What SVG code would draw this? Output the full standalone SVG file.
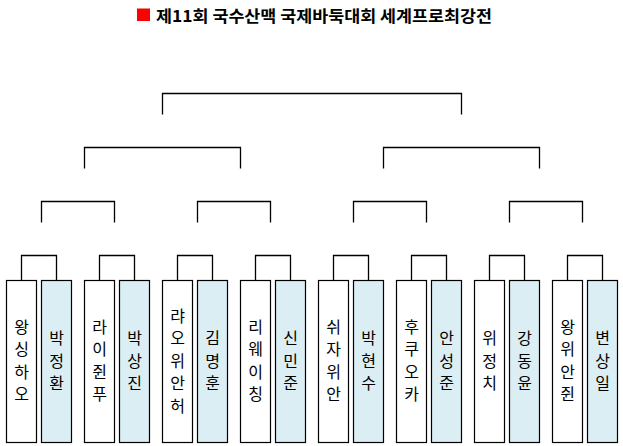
<svg xmlns="http://www.w3.org/2000/svg" width="623" height="446" viewBox="0 0 623 446">
<style>
.a{fill:#ffffff;stroke:#000;stroke-width:1.2}
.b{fill:#DAEEF3;stroke:#000;stroke-width:1.2}
.c{fill:none;stroke:#000;stroke-width:1.3}
.t{font-family:"Noto Sans CJK KR","Noto Sans",sans-serif;font-size:16px;fill:#000;text-anchor:middle;dominant-baseline:central}
.h{font-family:"Noto Sans CJK KR","Noto Sans",sans-serif;font-size:16px;font-weight:bold;fill:#000;dominant-baseline:central}
</style>
<rect width="623" height="446" fill="#ffffff"/>
<g id="title">
<rect x="137" y="8.5" width="13" height="12.5" fill="#ff0000"/>
<text class="h" x="156" y="14.5" textLength="336" lengthAdjust="spacingAndGlyphs">제11회 국수산맥 국제바둑대회 세계프로최강전</text>
</g>
<g id="connectors">
<path class="c" d="M21.5 280.5V255.5H56.5V280.5"/>
<path class="c" d="M99.5 280.5V255.5H134.5V280.5"/>
<path class="c" d="M177.5 280.5V255.5H212.5V280.5"/>
<path class="c" d="M255.5 280.5V255.5H290.5V280.5"/>
<path class="c" d="M333.5 280.5V255.5H368.5V280.5"/>
<path class="c" d="M411.5 280.5V255.5H446.5V280.5"/>
<path class="c" d="M489.5 280.5V255.5H524.5V280.5"/>
<path class="c" d="M567.5 280.5V255.5H602.5V280.5"/>
<path class="c" d="M41.5 222.5V201.5H114.5V222.5"/>
<path class="c" d="M197.5 222.5V201.5H270.5V222.5"/>
<path class="c" d="M353.5 222.5V201.5H426.5V222.5"/>
<path class="c" d="M509.5 222.5V201.5H582.5V222.5"/>
<path class="c" d="M84.5 168.5V147.5H240.5V168.5"/>
<path class="c" d="M383.5 168.5V147.5H539.5V168.5"/>
<path class="c" d="M162.5 114.5V93.5H461.5V114.5"/>
</g>
<g id="n1"><rect class="a" x="6.5" y="280.5" width="30" height="162"/><text class="t"><tspan x="21.5" y="325.75">왕</tspan><tspan x="21.5" dy="22.5">싱</tspan><tspan x="21.5" dy="22.5">하</tspan><tspan x="21.5" dy="22.5">오</tspan></text></g>
<g id="n2"><rect class="b" x="41.5" y="280.5" width="30" height="162"/><text class="t"><tspan x="56.5" y="337">박</tspan><tspan x="56.5" dy="22.5">정</tspan><tspan x="56.5" dy="22.5">환</tspan></text></g>
<g id="n3"><rect class="a" x="84.5" y="280.5" width="30" height="162"/><text class="t"><tspan x="99.5" y="325.75">라</tspan><tspan x="99.5" dy="22.5">이</tspan><tspan x="99.5" dy="22.5">쥔</tspan><tspan x="99.5" dy="22.5">푸</tspan></text></g>
<g id="n4"><rect class="b" x="119.5" y="280.5" width="30" height="162"/><text class="t"><tspan x="134.5" y="337">박</tspan><tspan x="134.5" dy="22.5">상</tspan><tspan x="134.5" dy="22.5">진</tspan></text></g>
<g id="n5"><rect class="a" x="162.5" y="280.5" width="30" height="162"/><text class="t"><tspan x="177.5" y="314.5">랴</tspan><tspan x="177.5" dy="22.5">오</tspan><tspan x="177.5" dy="22.5">위</tspan><tspan x="177.5" dy="22.5">안</tspan><tspan x="177.5" dy="22.5">허</tspan></text></g>
<g id="n6"><rect class="b" x="197.5" y="280.5" width="30" height="162"/><text class="t"><tspan x="212.5" y="337">김</tspan><tspan x="212.5" dy="22.5">명</tspan><tspan x="212.5" dy="22.5">훈</tspan></text></g>
<g id="n7"><rect class="a" x="240.5" y="280.5" width="30" height="162"/><text class="t"><tspan x="255.5" y="325.75">리</tspan><tspan x="255.5" dy="22.5">웨</tspan><tspan x="255.5" dy="22.5">이</tspan><tspan x="255.5" dy="22.5">칭</tspan></text></g>
<g id="n8"><rect class="b" x="275.5" y="280.5" width="30" height="162"/><text class="t"><tspan x="290.5" y="337">신</tspan><tspan x="290.5" dy="22.5">민</tspan><tspan x="290.5" dy="22.5">준</tspan></text></g>
<g id="n9"><rect class="a" x="318.5" y="280.5" width="30" height="162"/><text class="t"><tspan x="333.5" y="325.75">쉬</tspan><tspan x="333.5" dy="22.5">자</tspan><tspan x="333.5" dy="22.5">위</tspan><tspan x="333.5" dy="22.5">안</tspan></text></g>
<g id="n10"><rect class="b" x="353.5" y="280.5" width="30" height="162"/><text class="t"><tspan x="368.5" y="337">박</tspan><tspan x="368.5" dy="22.5">현</tspan><tspan x="368.5" dy="22.5">수</tspan></text></g>
<g id="n11"><rect class="a" x="396.5" y="280.5" width="30" height="162"/><text class="t"><tspan x="411.5" y="325.75">후</tspan><tspan x="411.5" dy="22.5">쿠</tspan><tspan x="411.5" dy="22.5">오</tspan><tspan x="411.5" dy="22.5">카</tspan></text></g>
<g id="n12"><rect class="b" x="431.5" y="280.5" width="30" height="162"/><text class="t"><tspan x="446.5" y="337">안</tspan><tspan x="446.5" dy="22.5">성</tspan><tspan x="446.5" dy="22.5">준</tspan></text></g>
<g id="n13"><rect class="a" x="474.5" y="280.5" width="30" height="162"/><text class="t"><tspan x="489.5" y="337">위</tspan><tspan x="489.5" dy="22.5">정</tspan><tspan x="489.5" dy="22.5">치</tspan></text></g>
<g id="n14"><rect class="b" x="509.5" y="280.5" width="30" height="162"/><text class="t"><tspan x="524.5" y="337">강</tspan><tspan x="524.5" dy="22.5">동</tspan><tspan x="524.5" dy="22.5">윤</tspan></text></g>
<g id="n15"><rect class="a" x="552.5" y="280.5" width="30" height="162"/><text class="t"><tspan x="567.5" y="325.75">왕</tspan><tspan x="567.5" dy="22.5">위</tspan><tspan x="567.5" dy="22.5">안</tspan><tspan x="567.5" dy="22.5">쥔</tspan></text></g>
<g id="n16"><rect class="b" x="587.5" y="280.5" width="30" height="162"/><text class="t"><tspan x="602.5" y="337">변</tspan><tspan x="602.5" dy="22.5">상</tspan><tspan x="602.5" dy="22.5">일</tspan></text></g>
</svg>
